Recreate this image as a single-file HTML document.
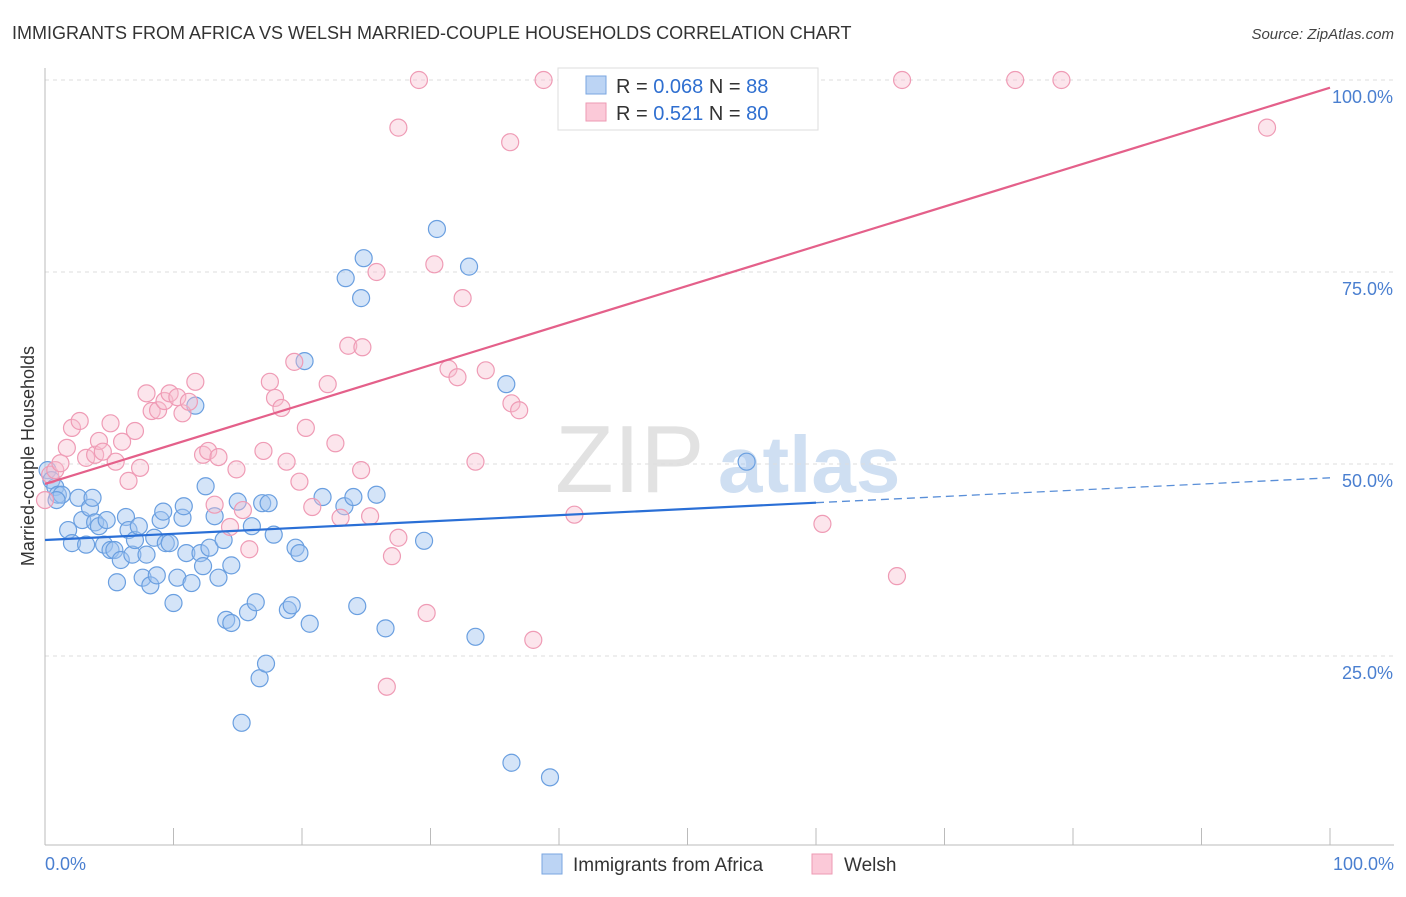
<!DOCTYPE html>
<html><head><meta charset="utf-8"><style>
body{margin:0;background:#fff;font-family:"Liberation Sans",sans-serif;}
svg text{font-family:"Liberation Sans",sans-serif;}
</style></head><body>
<svg id="chart" width="1406" height="892" xmlns="http://www.w3.org/2000/svg">
<text x="12" y="39" font-size="18" fill="#333">IMMIGRANTS FROM AFRICA VS WELSH MARRIED-COUPLE HOUSEHOLDS CORRELATION CHART</text>
<text x="1394" y="39" font-size="15" fill="#444" text-anchor="end" font-style="italic">Source: ZipAtlas.com</text>
<g>
<text x="555" y="492" font-size="96" fill="#e2e2e2" font-family="Liberation Serif">ZIP</text>
<text x="718" y="492" font-size="80" fill="#cfdff2" font-weight="bold">atlas</text>
</g>
<g id="grid"></g><g id="axes"></g><g id="marks"></g>
<text transform="translate(34,456) rotate(-90)" font-size="18" fill="#333" text-anchor="middle">Married-couple Households</text>
<text x="45" y="870" font-size="18" fill="#4a7fd0">0.0%</text>
<text x="1394" y="870" font-size="18" fill="#4a7fd0" text-anchor="end">100.0%</text>
<g>
<rect x="558" y="68" width="260" height="62" fill="#fff" stroke="#ddd"/>
<rect x="586" y="76" width="20" height="18" fill="#bcd4f4" stroke="#7aa6e0"/>
<rect x="586" y="103" width="20" height="18" fill="#fbc9d8" stroke="#ee9ab3"/>
<text x="616" y="93" font-size="20" fill="#333">R = <tspan fill="#2f6fd0">0.068</tspan>   N = <tspan fill="#2f6fd0">88</tspan></text>
<text x="616" y="120" font-size="20" fill="#333">R =  <tspan fill="#2f6fd0">0.521</tspan>   N = <tspan fill="#2f6fd0">80</tspan></text>
</g>
<g>
<rect x="542" y="854" width="20" height="20" fill="#bcd4f4" stroke="#7aa6e0"/>
<text x="573" y="871" font-size="19" fill="#333">Immigrants from Africa</text>
<rect x="812" y="854" width="20" height="20" fill="#fbc9d8" stroke="#ee9ab3"/>
<text x="844" y="871" font-size="19" fill="#333">Welsh</text>
</g>
</svg>
<script>
const blueX=[0.2,0.5,0.8,1.0,1.3,0.9,1.8,2.1,2.6,2.9,3.2,3.5,3.7,3.9,4.2,4.6,4.8,5.1,5.4,5.6,5.9,6.3,6.5,6.8,7.0,7.3,7.6,7.9,8.2,8.5,8.7,9.0,9.2,9.4,9.7,10.0,10.3,10.7,10.8,11.0,11.4,11.7,12.1,12.3,12.5,12.8,13.2,13.5,13.9,14.1,14.5,14.5,15.0,15.3,15.8,16.1,16.4,16.7,16.9,17.2,17.4,17.8,18.9,19.2,19.5,19.8,20.2,20.6,21.6,23.3,23.4,24.0,24.3,24.6,24.8,25.8,26.5,29.5,30.5,33.0,33.5,35.9,36.3,39.3,54.6];
const blueY=[49.2,47.9,47.0,46.0,46.0,45.3,41.4,39.7,45.6,42.7,39.5,44.3,45.6,42.4,41.9,39.5,42.7,38.8,38.8,34.6,37.5,43.1,41.4,38.2,40.1,41.9,35.2,38.2,34.2,40.4,35.5,42.7,43.8,39.7,39.7,31.9,35.2,43.0,44.5,38.4,34.5,57.6,38.4,36.7,47.1,39.1,43.2,35.2,40.1,29.7,36.8,29.3,45.1,16.3,30.7,41.9,32.0,22.1,44.9,24.0,44.9,40.8,31.0,31.6,39.1,38.4,63.4,29.2,45.7,44.5,74.2,45.7,31.5,71.6,76.8,46.0,28.6,40.0,80.6,75.7,27.5,60.4,11.1,9.2,50.3];
const pinkX=[0,0.4,0.8,1.2,1.7,2.1,2.7,3.2,3.9,4.2,4.5,5.1,5.5,6.0,6.5,7.0,7.4,7.9,8.3,8.8,9.3,9.7,10.3,10.7,11.2,11.7,12.3,12.7,13.2,13.5,14.4,14.9,15.4,15.9,17.0,17.5,17.9,18.4,18.8,19.4,19.8,20.3,20.8,22.0,22.6,23.0,23.6,24.7,24.6,25.3,25.8,27.0,27.5,26.6,27.5,29.1,29.7,30.3,32.5,31.4,32.1,33.5,34.3,36.2,36.3,36.9,38.0,38.8,41.2,47.5,54.1,60.5,66.3,66.7,75.5,79.1,95.1];
const pinkY=[45.3,48.6,49.2,50.1,52.1,54.7,55.6,50.8,51.2,53.0,51.6,55.3,50.3,52.9,47.8,54.3,49.5,59.2,56.9,57.0,58.2,59.2,58.7,56.6,58.1,60.7,51.2,51.7,44.7,50.9,41.8,49.3,44.0,38.9,51.7,60.7,58.6,57.3,50.3,63.3,47.7,54.7,44.4,60.4,52.7,43.0,65.4,65.2,49.2,43.2,75.0,38.0,40.4,21.0,93.8,100,30.6,76.0,71.6,62.4,61.3,50.3,62.2,91.9,57.9,57.0,27.1,100,43.4,100,100,42.2,35.4,100,100,100,93.8];
const blueTrend=[40.1,48.2]; // y at x=0 and x=100
const blueSolidEnd=[60];
const pinkTrend=[47.4,99.0];
const yTicks=[25,50,75,100];
const yTickLabels=["25.0%","50.0%","75.0%","100.0%"];
const xTicks=[0,10,20,30,40,50,60,70,80,90,100];

const NS="http://www.w3.org/2000/svg";
const X=v=>45+v*12.85, Y=v=>848-v*7.68;
function mk(tag,attrs,parent){const e=document.createElementNS(NS,tag);for(const k in attrs)e.setAttribute(k,attrs[k]);document.getElementById(parent).appendChild(e);return e;}
yTicks.forEach((t,i)=>{
 const g=mk('line',{x1:45,x2:1394,y1:Y(t),y2:Y(t),stroke:'#ddd','stroke-dasharray':'4,4'},'grid');
 
 
 const tx=mk('text',{x:1393,y:Y(t)+23,'font-size':18,fill:'#4a7fd0','text-anchor':'end'},'grid');
 tx.textContent=yTickLabels[i];
 
 
});
const ax=mk('line',{x1:45,x2:45,y1:68,y2:845,stroke:'#bbb'},'axes');


const bx=mk('line',{x1:45,x2:1394,y1:845,y2:845,stroke:'#bbb'},'axes');


xTicks.forEach(t=>{
 const l=mk('line',{x1:X(t),x2:X(t),y1:828,y2:845,stroke:'#bbb'},'axes');
 
 
});
blueX.forEach((v,i)=>{
 const c=mk('circle',{cx:X(v),cy:Y(blueY[i]),r:8.5,fill:'rgba(160,195,240,0.45)',stroke:'#6a9fe0','stroke-width':1.2},'marks');
 
 
});
pinkX.forEach((v,i)=>{
 const c=mk('circle',{cx:X(v),cy:Y(pinkY[i]),r:8.5,fill:'rgba(248,190,208,0.4)',stroke:'#ef9bb5','stroke-width':1.2},'marks');
 
 
});
const bAt=x=>blueTrend[0]+(blueTrend[1]-blueTrend[0])*x/100;
const pAt=x=>pinkTrend[0]+(pinkTrend[1]-pinkTrend[0])*x/100;
const l1=mk('line',{x1:X(0),y1:Y(bAt(0)),x2:X(blueSolidEnd[0]),y2:Y(bAt(blueSolidEnd[0])),stroke:'#2a6fd6','stroke-width':2.2},'marks');


const l2=mk('line',{x1:X(blueSolidEnd[0]),y1:Y(bAt(blueSolidEnd[0])),x2:X(100),y2:Y(bAt(100)),stroke:'#5a8fd8','stroke-width':1.3,'stroke-dasharray':'8,5'},'marks');


const l3=mk('line',{x1:X(0),y1:Y(pAt(0)),x2:X(100),y2:Y(pAt(100)),stroke:'#e4608a','stroke-width':2.2},'marks');


</script>
</body></html>
